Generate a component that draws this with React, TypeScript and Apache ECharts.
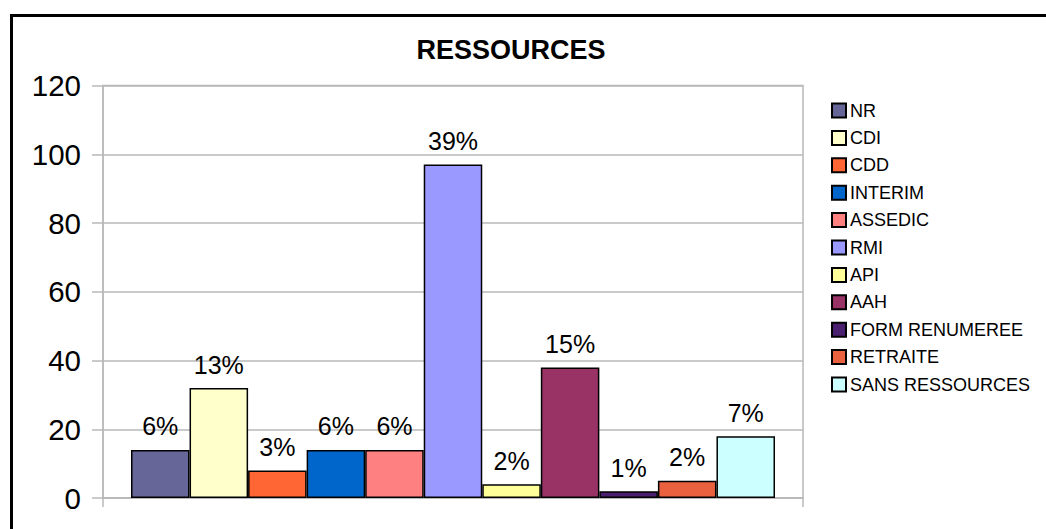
import React, { useEffect, useRef } from "react";
import * as echarts from "echarts";

const categories = ["NR", "CDI", "CDD", "INTERIM", "ASSEDIC", "RMI", "API", "AAH", "FORM RENUMEREE", "RETRAITE", "SANS RESSOURCES"];
const values = [14, 32, 8, 14, 14, 97, 4, 38, 2, 5, 18];
const percentLabels = ["6%", "13%", "3%", "6%", "6%", "39%", "2%", "15%", "1%", "2%", "7%"];
const colors = ["#666699", "#FFFFCC", "#FF6633", "#0066CC", "#FF8080", "#9999FF", "#FFFF99", "#993366", "#4B1F6F", "#EA6140", "#CCFFFF"];
const yTicks = [0, 20, 40, 60, 80, 100, 120];

const FONT = "'Liberation Sans', Arial, sans-serif";

export default function App() {
  const ref = useRef<HTMLDivElement>(null);
  useEffect(() => {
    if (!ref.current) return;
    const chart = echarts.init(ref.current, null, { renderer: "svg" });
    const series = categories.map((name, i) => ({
      type: "bar",
      name,
      data: [values[i]],
      barGap: "0%",
      barCategoryGap: "8%",
      itemStyle: { color: colors[i], borderColor: "#000", borderWidth: 1.5 },
      label: {
        show: true,
        position: "top",
        distance: 11,
        formatter: () => percentLabels[i],
        color: "#000",
        fontSize: 25,
        fontFamily: FONT,
      },
    }));
    chart.setOption({
      animation: false,
      backgroundColor: "#fff",
      title: {
        text: "RESSOURCES",
        left: 506,
        top: 31,
        textAlign: "center",
        textStyle: { fontSize: 27, fontWeight: "bold", color: "#000", fontFamily: FONT },
      },
      graphic: [
        {
          type: "rect",
          shape: { x: 11.5, y: 15.5, width: 1100, height: 600 },
          style: { fill: "none", stroke: "#000", lineWidth: 3 },
          silent: true,
        },
      ],
      legend: {
        orient: "vertical",
        left: 826,
        top: 96.5,
        itemWidth: 14,
        itemHeight: 14,
        itemGap: 9.4,
        icon: "rect",
        data: categories,
        textStyle: { fontSize: 18, lineHeight: 18, color: "#000", fontFamily: FONT, padding: [0, 0, 0, -1] },
      },
      grid: {
        left: 103,
        right: 243,
        top: 85.5,
        bottom: 31,
        show: true,
        borderColor: "#b8b8b8",
        borderWidth: 1.5,
        containLabel: false,
      },
      xAxis: {
        type: "category",
        data: [""],
        axisLine: { show: true, lineStyle: { color: "#b8b8b8", width: 1.5 } },
        axisTick: { show: true, length: 9, lineStyle: { color: "#b8b8b8", width: 1.5 } },
        axisLabel: { show: false },
      },
      yAxis: {
        type: "value",
        min: yTicks[0],
        max: yTicks[yTicks.length - 1],
        interval: 20,
        axisLine: { show: true, lineStyle: { color: "#b8b8b8", width: 1.5 } },
        axisTick: { show: true, length: 11, lineStyle: { color: "#b8b8b8", width: 1.5 } },
        axisLabel: { margin: 22, fontSize: 29.5, color: "#000", fontFamily: FONT },
        splitLine: { show: true, lineStyle: { color: "#b8b8b8", width: 1.5 } },
      },
      series,
    });
    return () => chart.dispose();
  }, []);
  return (
    <div style={{ position: "fixed", left: 0, top: 0, width: 1046, height: 529, overflow: "hidden", background: "#fff" }}>
      <div ref={ref} style={{ width: 1046, height: 529 }} />
    </div>
  );
}
